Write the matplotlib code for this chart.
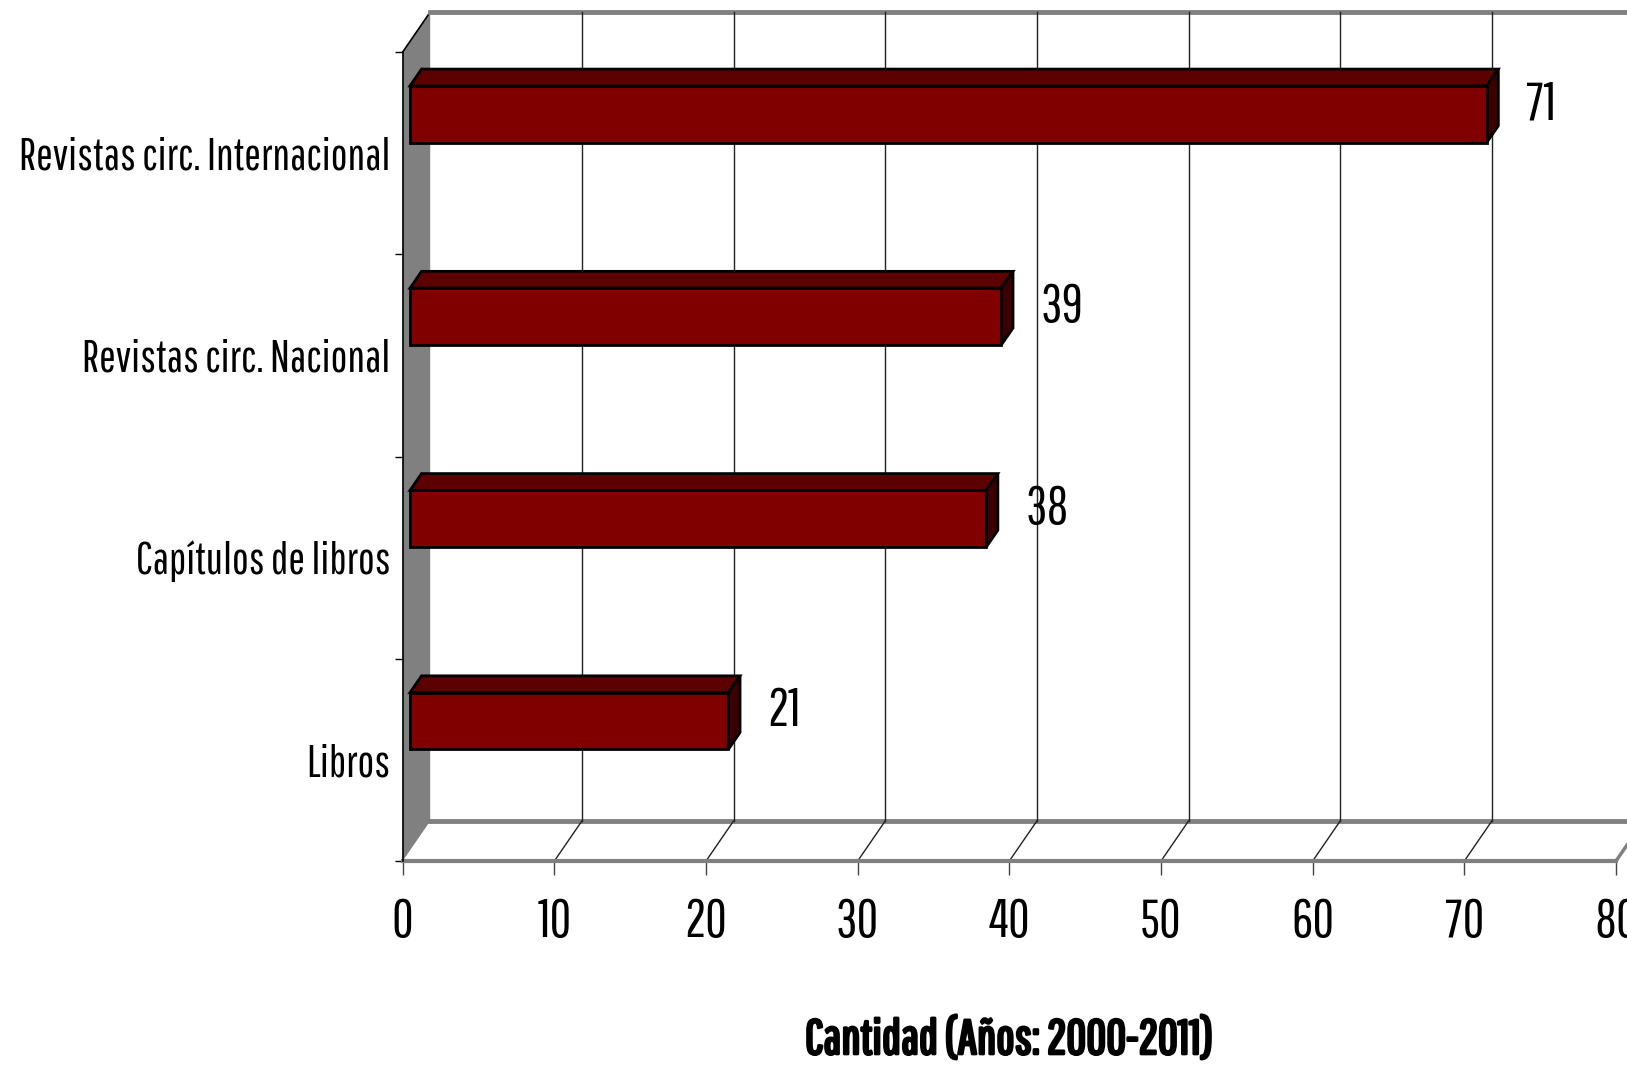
import matplotlib
matplotlib.use('Agg')
import matplotlib.pyplot as plt
import matplotlib.patheffects as pe
from matplotlib.patches import Polygon

categories = ['Libros', 'Capítulos de libros', 'Revistas circ. Nacional', 'Revistas circ. Internacional']
values = [21, 38, 39, 71]
xticks = [0, 10, 20, 30, 40, 50, 60, 70, 80]
xlabel = 'Cantidad (Años: 2000-2011)'

plt.rcParams['font.family'] = ['Pathway Gothic One', 'Archivo Narrow', 'Liberation Sans', 'DejaVu Sans']

W, H = 1627, 1069
fig = plt.figure(figsize=(W / 100, H / 100), dpi=100)
# front plane of the 3d box, in pixels
left, right, bottom, top = 402.7, 1616, 861, 52
ax = fig.add_axes([left / W, 1 - bottom / H, (right - left) / W, (bottom - top) / H])
ax.set_xlim(0, 80)
ax.set_ylim(0, len(categories))

# depth offset of back wall, in data units
DX = 27.5 / ((right - left) / 80)
DY = 40 / ((bottom - top) / len(categories))
ymax = len(categories)

# left wall
ax.add_patch(Polygon([(0, 0), (0, ymax), (DX, ymax + DY), (DX, DY)], closed=True,
                     facecolor='#808080', edgecolor='none', clip_on=False, zorder=1))
ax.plot([0, DX], [ymax, ymax + DY], color='black', lw=1.2, clip_on=False, zorder=2)
# top edge of back wall, back edge of floor
ax.plot([DX, 80 + DX], [ymax + DY, ymax + DY], color='#808080', lw=3.5, clip_on=False, zorder=2)
ax.plot([DX, 80 + DX], [DY, DY], color='#808080', lw=3.5, clip_on=False, zorder=2)

# gridlines on back wall and floor
for v in xticks[1:]:
    c = '#808080' if v == 80 else '#222222'
    if v < 80:
        ax.plot([v + DX, v + DX], [DY, ymax + DY], color=c, lw=1, clip_on=False, zorder=2)
    ax.plot([v, v + DX], [0, DY], color=c, lw=1 if v < 80 else 2.5, clip_on=False, zorder=2)

# 3d bars
f1 = 0.265   # depth of front face
d = 0.42     # bar depth
h = 0.28     # bar height
front_c, top_c, side_c = '#800000', '#5c0000', '#3d0000'
for i, v in enumerate(values):
    x0, x1 = f1 * DX, v + f1 * DX
    y0, y1 = i + 0.5 + f1 * DY, i + 0.5 + h + f1 * DY
    ox, oy = d * DX, d * DY
    kw = dict(closed=True, edgecolor='black', lw=2, joinstyle='miter', clip_on=False, zorder=5)
    ax.add_patch(Polygon([(x0, y1), (x1, y1), (x1 + ox, y1 + oy), (x0 + ox, y1 + oy)], facecolor=top_c, **kw))
    ax.add_patch(Polygon([(x1, y0), (x1, y1), (x1 + ox, y1 + oy), (x1 + ox, y0 + oy)], facecolor=side_c, **kw))
    ax.add_patch(Polygon([(x0, y0), (x1, y0), (x1, y1), (x0, y1)], facecolor=front_c, **kw))
    ax.text(v + (f1 + d) * DX + 1.8, i + 0.74, str(v), fontsize=38, ha='left', va='center', zorder=6)

# axes styling
for s in ['top', 'right']:
    ax.spines[s].set_visible(False)
ax.spines['bottom'].set_color('#808080')
ax.spines['bottom'].set_linewidth(3)
ax.spines['left'].set_color('black')
ax.spines['left'].set_linewidth(1.2)
ax.spines['left'].set_zorder(3)
ax.set_xticks(xticks)
ax.tick_params(axis='x', direction='out', length=10, width=1, color='#444444', labelsize=38, pad=16)
ax.set_yticks(range(len(categories) + 1))
ax.set_yticklabels([])
ax.tick_params(axis='y', which='major', direction='out', length=6, width=1)
ax.set_yticks([i + 0.5 for i in range(len(categories))], minor=True)
ax.set_yticklabels(categories, minor=True, fontsize=32)
ax.tick_params(axis='y', which='minor', length=0, pad=9)
ax.set_xlabel(xlabel, fontsize=35, labelpad=51,
              path_effects=[pe.withStroke(linewidth=2, foreground='black')])
ax.patch.set_visible(False)

fig.savefig('out.png', dpi=100)
